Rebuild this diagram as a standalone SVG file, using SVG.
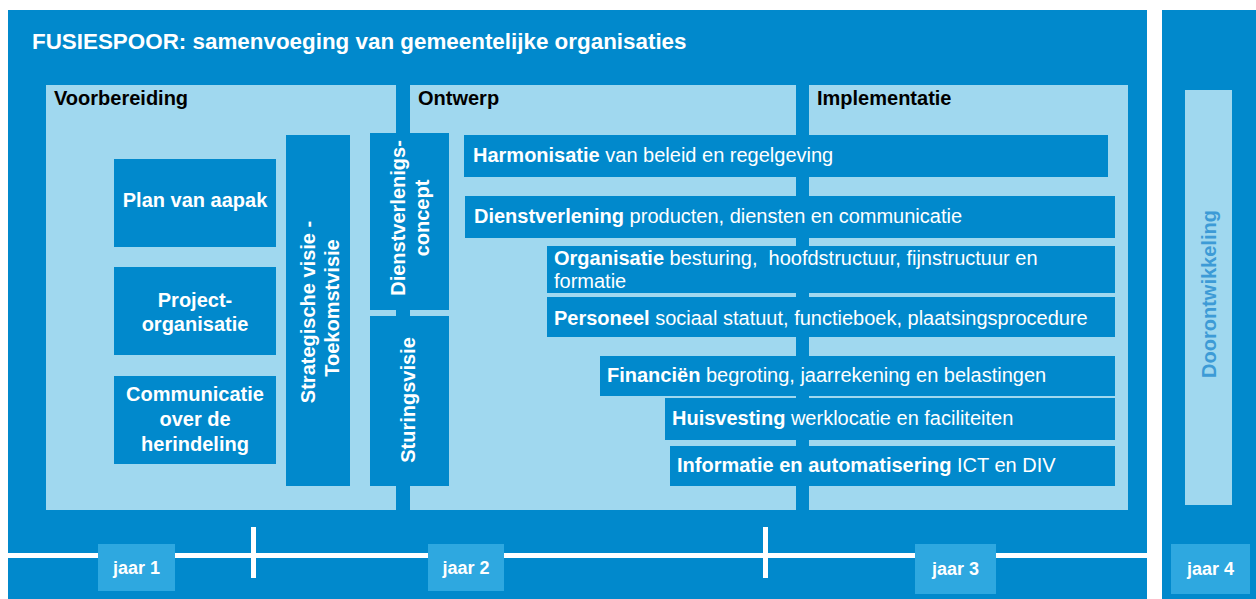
<svg xmlns="http://www.w3.org/2000/svg" width="1256" height="599" viewBox="0 0 1256 599">
<style>
.dark{fill:#0189cc}
.light{fill:#a0d8ef}
.yr{fill:#2ea8e0}
text{font-family:"Liberation Sans",Arial,sans-serif}
.title{font-size:22.4px;font-weight:bold;fill:#fff}
.phase{font-size:20px;font-weight:bold;fill:#000}
.wb{font-size:20px;font-weight:bold;fill:#fff;text-anchor:middle}
.bar{font-size:20px;fill:#fff}
.bar tspan.k{font-weight:bold}
.yt{font-size:18px;font-weight:bold;fill:#fff;text-anchor:middle}
.doo{font-size:20px;font-weight:bold;fill:#3d9bd6;text-anchor:middle}
</style>
<rect width="1256" height="599" fill="#fff"/>
<g id="fusiespoor">
<rect class="dark" x="8" y="10" width="1139" height="589"/>
<text class="title" x="32" y="49">FUSIESPOOR: samenvoeging van gemeentelijke organisaties</text>
</g>
<g id="phase-voorbereiding">
<rect class="light" x="46" y="85" width="350" height="425"/>
<text class="phase" x="54" y="105">Voorbereiding</text>
</g>
<g id="phase-ontwerp">
<rect class="light" x="410" y="85" width="386" height="425"/>
<text class="phase" x="418" y="105">Ontwerp</text>
</g>
<g id="phase-implementatie">
<rect class="light" x="809" y="85" width="319" height="425"/>
<text class="phase" x="817" y="105">Implementatie</text>
</g>
<g id="plan-van-aanpak">
<rect class="dark" x="114" y="159" width="162" height="88"/>
<text class="wb" x="195" y="207">Plan van aapak</text>
</g>
<g id="projectorganisatie">
<rect class="dark" x="114" y="267" width="162" height="88"/>
<text class="wb" x="195" y="307">Project-</text>
<text class="wb" x="195" y="331">organisatie</text>
</g>
<g id="communicatie">
<rect class="dark" x="114" y="376" width="162" height="88"/>
<text class="wb" x="195" y="401">Communicatie</text>
<text class="wb" x="195" y="426">over de</text>
<text class="wb" x="195" y="451">herindeling</text>
</g>
<g id="strategische-visie">
<rect class="dark" x="286" y="135" width="64" height="351"/>
<text class="wb" transform="translate(315,312) rotate(-90)">Strategische visie -</text>
<text class="wb" transform="translate(339,308) rotate(-90)">Toekomstvisie</text>
</g>
<g id="dienstverleningsconcept">
<rect class="dark" x="370" y="133" width="79" height="177"/>
<text class="wb" transform="translate(405,218) rotate(-90)">Dienstverlenigs-</text>
<text class="wb" transform="translate(429,218) rotate(-90)">concept</text>
</g>
<g id="sturingsvisie">
<rect class="dark" x="370" y="316" width="79" height="170"/>
<text class="wb" transform="translate(415,400) rotate(-90)">Sturingsvisie</text>
</g>
<g id="harmonisatie">
<rect class="dark" x="464" y="135" width="644" height="42"/>
<text class="bar" x="473" y="162"><tspan class="k">Harmonisatie</tspan> van beleid en regelgeving</text>
</g>
<g id="dienstverlening">
<rect class="dark" x="465" y="196" width="650" height="42"/>
<text class="bar" x="474" y="223"><tspan class="k">Dienstverlening</tspan> producten, diensten en communicatie</text>
</g>
<g id="organisatie">
<rect class="dark" x="547" y="246" width="568" height="47"/>
<text class="bar" x="554" y="265" xml:space="preserve"><tspan class="k">Organisatie</tspan> besturing,  hoofdstructuur, fijnstructuur en</text>
<text class="bar" x="554" y="288">formatie</text>
</g>
<g id="personeel">
<rect class="dark" x="547" y="297" width="568" height="40"/>
<text class="bar" x="554" y="325"><tspan class="k">Personeel</tspan> sociaal statuut, functieboek, plaatsingsprocedure</text>
</g>
<g id="financien">
<rect class="dark" x="600" y="356" width="515" height="40"/>
<text class="bar" x="607" y="382"><tspan class="k">Financiën</tspan> begroting, jaarrekening en belastingen</text>
</g>
<g id="huisvesting">
<rect class="dark" x="665" y="398" width="450" height="42"/>
<text class="bar" x="672" y="425"><tspan class="k">Huisvesting</tspan> werklocatie en faciliteiten</text>
</g>
<g id="informatie">
<rect class="dark" x="670" y="446" width="445" height="40"/>
<text class="bar" x="677" y="472"><tspan class="k">Informatie en automatisering</tspan> ICT en DIV</text>
</g>
<g id="doorontwikkeling">
<rect class="dark" x="1162" y="10" width="94" height="589"/>
<rect class="light" x="1185" y="90" width="47" height="415"/>
<text class="doo" transform="translate(1216,294) rotate(-90)">Doorontwikkeling</text>
</g>
<g id="connectors">
<rect fill="#fff" x="8" y="553" width="1139" height="5"/>
<rect fill="#fff" x="251" y="527" width="5" height="51"/>
<rect fill="#fff" x="763" y="527" width="5" height="51"/>
</g>
<g id="jaar-1">
<rect class="yr" x="98" y="544" width="77" height="47"/>
<text class="yt" x="136.5" y="574">jaar 1</text>
</g>
<g id="jaar-2">
<rect class="yr" x="428" y="544" width="76" height="47"/>
<text class="yt" x="466" y="574">jaar 2</text>
</g>
<g id="jaar-3">
<rect class="yr" x="915" y="544" width="81" height="50"/>
<text class="yt" x="955.5" y="575">jaar 3</text>
</g>
<g id="jaar-4">
<rect class="yr" x="1171" y="544" width="79" height="50"/>
<text class="yt" x="1210.5" y="575">jaar 4</text>
</g>
</svg>
